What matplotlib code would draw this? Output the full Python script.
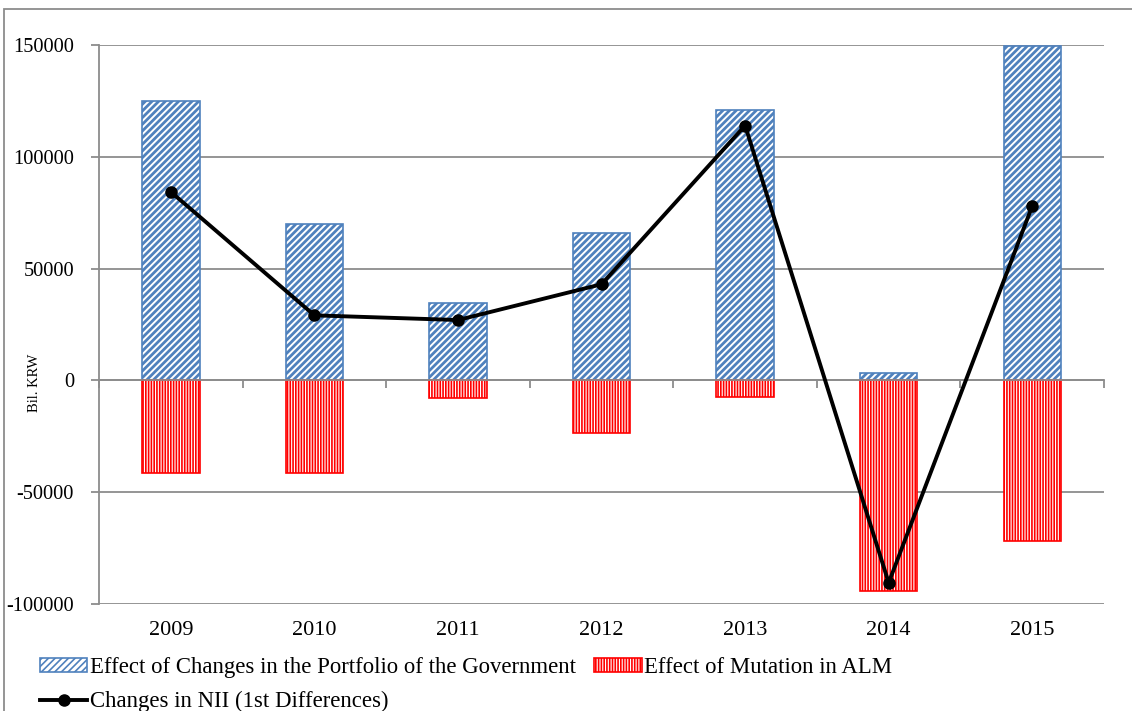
import numpy as np
import matplotlib.pyplot as plt
import matplotlib.transforms as mtransforms
from matplotlib.patches import Rectangle
from matplotlib.ticker import FuncFormatter

plt.rcParams['font.family'] = ['Liberation Serif', 'DejaVu Serif']

years = ["2009", "2010", "2011", "2012", "2013", "2014", "2015"]
portfolio = [125000, 70000, 34500, 66000, 121000, 3200, 149500]
alm = [-41300, -41600, -7800, -23700, -7400, -94000, -72000]
nii = [84300, 29100, 27000, 43000, 114000, -90500, 78000]

grey = "#8c8c8c"
blue = "#4f81bd"
red = "#ff0000"

fig = plt.figure(figsize=(11.32, 7.11), dpi=100)
ax = fig.add_axes([0.0875, 0.1505, 0.8878, 0.7862])

x = np.arange(len(years))

plt.rcParams['hatch.linewidth'] = 2.0
b1 = ax.bar(x, portfolio, width=0.4, color="white", edgecolor=blue,
            hatch="/////", linewidth=1.2, label="Effect of Changes in the Portfolio of the Government", zorder=2)
plt.rcParams['hatch.linewidth'] = 1.2
b2 = ax.bar(x, alm, width=0.4, color="white", edgecolor=red,
            hatch="||||||", linewidth=1.2, label="Effect of Mutation in ALM", zorder=2)
l1, = ax.plot(x, nii, color="black", lw=2.8, marker="o", ms=8,
              label="Changes in NII (1st Differences)", zorder=3)

ax.set_xlim(-0.5, len(years) - 0.5)
ax.set_ylim(-100000, 150000)
ax.set_yticks(np.arange(-100000, 150001, 50000))
ax.yaxis.set_major_formatter(FuncFormatter(lambda v, p: "%d" % v))
ax.yaxis.grid(True, color=grey, lw=1.3)
ax.set_axisbelow(True)
ax.tick_params(axis="y", labelsize=14.7, length=6, color=grey, width=1.3, pad=12)

fig.text(35 / 1132, 1 - 383 / 711, "Bil. KRW", rotation=90, ha="center",
         va="center", fontsize=10.5)

for s in ["top", "right"]:
    ax.spines[s].set_visible(False)
ax.spines["left"].set_color(grey)
ax.spines["left"].set_linewidth(1.3)
ax.spines["bottom"].set_position(("data", 0))
ax.spines["bottom"].set_color(grey)
ax.spines["bottom"].set_linewidth(1.3)
ax.set_xticks(np.arange(-0.5, len(years), 1.0))
ax.set_xticklabels([])
ax.tick_params(axis="x", length=6, color=grey, width=1.3)

trans = mtransforms.blended_transform_factory(ax.transData, ax.transAxes)
for xi, yr in zip(x, years):
    ax.text(xi, -0.047, yr, transform=trans, ha="center", va="center", fontsize=16)

fig.patches.append(Rectangle((4 / 1132, -0.1), 1.2, 1 - 9 / 711 + 0.1,
                             transform=fig.transFigure, fill=False,
                             edgecolor=grey, lw=1.3))

fig.legend(handles=[b1, l1, b2], loc="upper left", bbox_to_anchor=(0.035, 0.076),
           ncol=2, frameon=False, fontsize=16.4, handlelength=2.1, handleheight=0.6,
           handletextpad=0.1, columnspacing=0.8, labelspacing=0.57,
           borderaxespad=0, borderpad=0)

fig.savefig("out.png", dpi=100)
